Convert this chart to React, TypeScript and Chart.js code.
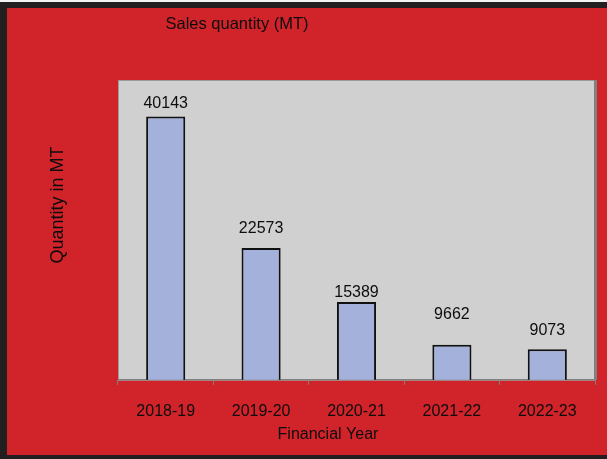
import React, { useEffect, useRef } from "react";
import { Chart, registerables } from "chart.js";

Chart.register(...registerables);

const categories = ["2018-19", "2019-20", "2020-21", "2021-22", "2022-23"];
const salesQuantity = [40143, 22573, 15389, 9662, 9073];
const chartTitle = "Sales quantity (MT)";
const xAxisTitle = "Financial Year";
const yAxisTitle = "Quantity in MT";
const yMin = 5000;
const yMax = 45000;

const W = 607;
const H = 459;
const FONT = "'Liberation Sans', Arial, sans-serif";
// gap (px) between each bar top and its label baseline, as placed in the source
const labelGaps = [8, 15, 5, 26, 14];

const backgroundPlugin = {
  id: "bgPlugin",
  beforeDraw(chart: any) {
    const ctx = chart.ctx as CanvasRenderingContext2D;
    const a = chart.chartArea;
    ctx.save();
    ctx.fillStyle = "#f4f4f4";
    ctx.fillRect(0, 0, W, H);
    ctx.fillStyle = "#231f20";
    ctx.fillRect(0, 2, W, H - 2);
    ctx.fillStyle = "#d1232a";
    ctx.fillRect(7, 8, W - 7, 447);
    ctx.fillStyle = "#d0d0d0";
    ctx.fillRect(a.left, a.top, a.right - a.left, a.bottom - a.top);
    ctx.strokeStyle = "#9a9a9a";
    ctx.lineWidth = 1;
    ctx.strokeRect(a.left + 0.5, a.top + 0.5, a.right - a.left - 1, a.bottom - a.top);
    ctx.fillStyle = "#808080";
    ctx.fillRect(a.right - 1, a.top, 3, a.bottom - a.top);
    ctx.fillStyle = "#0d0d0d";
    ctx.textAlign = "center";
    ctx.textBaseline = "middle";
    ctx.font = `16.5px ${FONT}`;
    ctx.fillText(chartTitle, 237, 24);
    ctx.font = `16px ${FONT}`;
    ctx.fillText(xAxisTitle, 328, 435);
    ctx.translate(58, 205);
    ctx.rotate(-Math.PI / 2);
    ctx.font = `18px ${FONT}`;
    ctx.fillText(yAxisTitle, 0, 0);
    ctx.restore();
  },
  afterDatasetsDraw(chart: any) {
    const ctx = chart.ctx as CanvasRenderingContext2D;
    const meta = chart.getDatasetMeta(0);
    ctx.save();
    ctx.fillStyle = "#0d0d0d";
    ctx.font = `16px ${FONT}`;
    ctx.textAlign = "center";
    ctx.textBaseline = "alphabetic";
    meta.data.forEach((bar: any, i: number) => {
      ctx.fillText(String(salesQuantity[i]), bar.x, bar.y - labelGaps[i]);
    });
    ctx.restore();
  },
};

export default function App() {
  const ref = useRef<HTMLCanvasElement>(null);
  useEffect(() => {
    document.body.style.margin = "0";
    const chart = new Chart(ref.current as HTMLCanvasElement, {
      type: "bar",
      data: {
        labels: categories,
        datasets: [
          {
            data: salesQuantity,
            backgroundColor: "#a4b1db",
            borderColor: "#111111",
            borderWidth: 2,
            categoryPercentage: 1,
            barPercentage: 0.41,
          },
        ],
      },
      options: {
        responsive: false,
        animation: false,
        devicePixelRatio: 1,
        layout: { padding: { left: 118, right: 12, top: 80, bottom: 21 } },
        plugins: {
          legend: { display: false },
          title: { display: false },
          tooltip: { enabled: false },
        },
        scales: {
          x: {
            grid: {
              display: true,
              drawOnChartArea: false,
              drawTicks: true,
              tickLength: 5,
              color: "#808080",
              offset: true,
            },
            border: { display: true, color: "#808080", width: 1 },
            ticks: {
              color: "#0d0d0d",
              font: { size: 16, family: FONT },
              padding: 17,
            },
            title: { display: false },
          },
          y: {
            display: false,
            min: yMin,
            max: yMax,
          },
        },
      },
      plugins: [backgroundPlugin],
    });
    return () => chart.destroy();
  }, []);
  return (
    <div style={{ position: "absolute", left: 0, top: 0, width: W, height: H }}>
      <canvas ref={ref} width={W} height={H} style={{ width: W, height: H, display: "block" }} />
    </div>
  );
}
